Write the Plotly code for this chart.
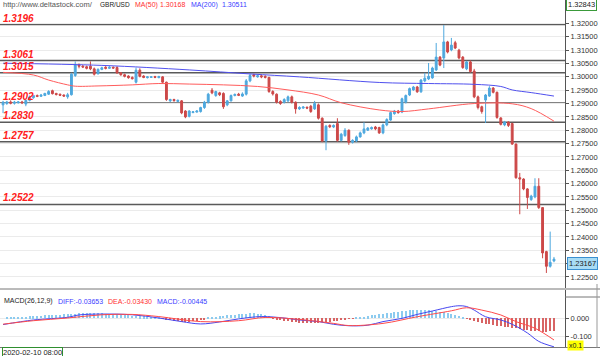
import plotly.graph_objects as go

W, H = 600, 356

# ---------------- data ----------------
idx = list(range(146))

opens = [
    1.2895, 1.2900, 1.2906, 1.2901, 1.2903, 1.2906, 1.2898, 1.2912, 1.2922, 1.2930,
    1.2927, 1.2930, 1.2935, 1.2948, 1.2938, 1.2935, 1.2932, 1.2925, 1.2933, 1.3005,
    1.3045, 1.3040, 1.3038, 1.3040, 1.3030, 1.3012, 1.3028, 1.3036, 1.3032, 1.3036,
    1.3035, 1.3015, 1.3008, 1.3003, 1.2998, 1.2980, 1.3025, 1.3003, 1.2997, 1.2998,
    1.3001, 1.2997, 1.3000, 1.2980, 1.2910, 1.2915, 1.2908, 1.2910, 1.2872, 1.2852,
    1.2866, 1.2868, 1.2870, 1.2885, 1.2905, 1.2950, 1.2930, 1.2940, 1.2938, 1.2895,
    1.2910, 1.2930, 1.2935, 1.2928, 1.2935, 1.2985, 1.3008, 1.3000, 1.3004, 1.3002,
    1.2998, 1.2945, 1.2935, 1.2908, 1.2905, 1.2910, 1.2925, 1.2905, 1.2880, 1.2883,
    1.2886, 1.2890, 1.2880, 1.2895, 1.2845, 1.2760, 1.2818, 1.2812, 1.2825, 1.2762,
    1.2780, 1.2800, 1.2755, 1.2760, 1.2775, 1.2790, 1.2800, 1.2805, 1.2812, 1.2810,
    1.2790, 1.2820, 1.2838, 1.2862, 1.2872, 1.2868, 1.2905, 1.2932, 1.2951, 1.2962,
    1.2944, 1.2985, 1.2992, 1.2996, 1.3026, 1.3074, 1.3071, 1.3131, 1.3101, 1.3128,
    1.3100, 1.3074, 1.3030, 1.3056, 1.3022, 1.2925, 1.2888, 1.2913, 1.2928, 1.2958,
    1.2942, 1.2846, 1.2820, 1.2830, 1.2825, 1.2748, 1.2622, 1.2617, 1.2580, 1.2540,
    1.2550, 1.2590, 1.2510, 1.2345, 1.2290, 1.2310]

highs = [
    1.2910, 1.2910, 1.2912, 1.2910, 1.2909, 1.2910, 1.2915, 1.2930, 1.2933, 1.2934,
    1.2936, 1.2940, 1.2950, 1.2952, 1.2940, 1.2937, 1.2934, 1.2940, 1.3015, 1.3058,
    1.3050, 1.3045, 1.3042, 1.3058, 1.3035, 1.3032, 1.3038, 1.3040, 1.3040, 1.3039,
    1.3040, 1.3018, 1.3012, 1.3006, 1.3002, 1.3035, 1.3032, 1.3006, 1.3003, 1.3003,
    1.3004, 1.3004, 1.3003, 1.2982, 1.2918, 1.2918, 1.2915, 1.2913, 1.2875, 1.2875,
    1.2872, 1.2875, 1.2888, 1.2910, 1.2940, 1.2958, 1.2948, 1.2944, 1.2942, 1.2913,
    1.2934, 1.2938, 1.2940, 1.2942, 1.2992, 1.3012, 1.3012, 1.3008, 1.3008, 1.3006,
    1.3000, 1.2950, 1.2938, 1.2912, 1.2920, 1.2930, 1.2930, 1.2908, 1.2890, 1.2890,
    1.2889, 1.2895, 1.2910, 1.2900, 1.2848, 1.2820, 1.2822, 1.2822, 1.2845, 1.2790,
    1.2808, 1.2803, 1.2766, 1.2780, 1.2795, 1.2830, 1.2812, 1.2814, 1.2816, 1.2813,
    1.2825, 1.2845, 1.2870, 1.2876, 1.2876, 1.2922, 1.2934, 1.2960, 1.2966, 1.2966,
    1.2992, 1.3015, 1.3052, 1.3038, 1.3127, 1.3078, 1.3194, 1.3135, 1.3146, 1.3135,
    1.3105, 1.3078, 1.3060, 1.3062, 1.3030, 1.2930, 1.2892, 1.2936, 1.2965, 1.2962,
    1.2945, 1.2849, 1.2835, 1.2834, 1.2828, 1.2750, 1.2640, 1.2620, 1.2583, 1.2558,
    1.2620, 1.2620, 1.2512, 1.2348, 1.2420, 1.2325]

lows = [
    1.2864, 1.2895, 1.2897, 1.2896, 1.2900, 1.2898, 1.2890, 1.2908, 1.2918, 1.2924,
    1.2925, 1.2928, 1.2932, 1.2934, 1.2930, 1.2928, 1.2925, 1.2918, 1.2930, 1.3000,
    1.3032, 1.3033, 1.3028, 1.3025, 1.3005, 1.3008, 1.3025, 1.3028, 1.3030, 1.3030,
    1.3012, 1.3004, 1.2998, 1.2993, 1.2990, 1.2975, 1.2998, 1.2995, 1.2994, 1.2996,
    1.2995, 1.2995, 1.2975, 1.2910, 1.2906, 1.2907, 1.2905, 1.2860, 1.2845, 1.2848,
    1.2864, 1.2866, 1.2866, 1.2880, 1.2900, 1.2935, 1.2925, 1.2928, 1.2880, 1.2890,
    1.2908, 1.2927, 1.2928, 1.2925, 1.2930, 1.2980, 1.2998, 1.2997, 1.2995, 1.2994,
    1.2940, 1.2930, 1.2900, 1.2895, 1.2900, 1.2905, 1.2900, 1.2862, 1.2876, 1.2880,
    1.2879, 1.2865, 1.2876, 1.2840, 1.2755, 1.2725, 1.2808, 1.2808, 1.2757, 1.2758,
    1.2775, 1.2745, 1.2750, 1.2755, 1.2772, 1.2785, 1.2797, 1.2802, 1.2800, 1.2786,
    1.2785, 1.2815, 1.2835, 1.2858, 1.2862, 1.2864, 1.2900, 1.2928, 1.2948, 1.2940,
    1.2940, 1.2980, 1.2988, 1.2993, 1.3022, 1.3040, 1.3033, 1.3088, 1.3096, 1.3104,
    1.3066, 1.3030, 1.3025, 1.3015, 1.2920, 1.2878, 1.2862, 1.2827, 1.2925, 1.2938,
    1.2843, 1.2818, 1.2815, 1.2812, 1.2745, 1.2618, 1.2485, 1.2575, 1.2505, 1.2535,
    1.2545, 1.2505, 1.2320, 1.2265, 1.2285, 1.2305]

closes = [
    1.2905, 1.2906, 1.2901, 1.2905, 1.2906, 1.2903, 1.2912, 1.2925, 1.2930, 1.2927,
    1.2932, 1.2938, 1.2945, 1.2937, 1.2934, 1.2931, 1.2928, 1.2933, 1.3010, 1.3045,
    1.3040, 1.3037, 1.3032, 1.3030, 1.3010, 1.3028, 1.3034, 1.3032, 1.3036, 1.3033,
    1.3015, 1.3008, 1.3002, 1.2997, 1.2993, 1.3025, 1.3002, 1.2998, 1.3000, 1.3000,
    1.2998, 1.3001, 1.2980, 1.2915, 1.2915, 1.2911, 1.2912, 1.2865, 1.2850, 1.2872,
    1.2869, 1.2872, 1.2885, 1.2905, 1.2935, 1.2940, 1.2945, 1.2933, 1.2888, 1.2910,
    1.2930, 1.2934, 1.2931, 1.2936, 1.2985, 1.3005, 1.3003, 1.3004, 1.3000, 1.2998,
    1.2945, 1.2936, 1.2905, 1.2900, 1.2915, 1.2925, 1.2905, 1.2880, 1.2885, 1.2887,
    1.2883, 1.2870, 1.2900, 1.2845, 1.2760, 1.2815, 1.2813, 1.2818, 1.2762, 1.2785,
    1.2800, 1.2755, 1.2762, 1.2775, 1.2790, 1.2805, 1.2808, 1.2810, 1.2805, 1.2790,
    1.2820, 1.2840, 1.2866, 1.2872, 1.2866, 1.2918, 1.2930, 1.2956, 1.2962, 1.2944,
    1.2988, 1.2995, 1.3002, 1.3033, 1.3074, 1.3044, 1.3131, 1.3093, 1.3119, 1.3108,
    1.3071, 1.3035, 1.3056, 1.3020, 1.2925, 1.2885, 1.2870, 1.2932, 1.2958, 1.2942,
    1.2848, 1.2822, 1.2830, 1.2818, 1.2748, 1.2622, 1.2617, 1.2580, 1.2548, 1.2553,
    1.2590, 1.2510, 1.2340, 1.2290, 1.2305, 1.2317]

# moving averages (candle index, value)
ma50_idx = [0, 8, 12, 17, 19, 25, 34, 41, 49, 58, 67, 75, 83, 89, 99, 105, 112, 124, 134, 139, 145]
ma50_val = [1.30168, 1.3007, 1.2988, 1.2970, 1.2965, 1.2966, 1.2970, 1.2975, 1.2973, 1.2970,
            1.2964, 1.2951, 1.2932, 1.2903, 1.2876, 1.2870, 1.2880, 1.2900, 1.2899, 1.2881, 1.2834]
ma200_idx = [0, 26, 49, 65, 78, 99, 112, 124, 131, 134, 139, 145]
ma200_val = [1.30511, 1.3043, 1.3026, 1.3011, 1.3000, 1.2979, 1.2975, 1.2972, 1.2964, 1.2951, 1.2941, 1.2928]

# support / resistance levels
levels = [1.3196, 1.3061, 1.3015, 1.2902, 1.2830, 1.2757, 1.2522]
level_labels = ["1.3196", "1.3061", "1.3015", "1.2902", "1.2830", "1.2757", "1.2522"]

price_ticks = [1.225, 1.230, 1.235, 1.240, 1.245, 1.250, 1.255, 1.260, 1.265, 1.270,
               1.275, 1.280, 1.285, 1.290, 1.295, 1.300, 1.305, 1.310, 1.315, 1.320]
price_tick_labels = ["1.22500", "1.23000", "1.23500", "1.24000", "1.24500", "1.25000",
                     "1.25500", "1.26000", "1.26500", "1.27000", "1.27500", "1.28000",
                     "1.28500", "1.29000", "1.29500", "1.30000", "1.30500", "1.31000",
                     "1.31500", "1.32000"]

# MACD
macd_hist = [
    0.000, 0.001, 0.002, 0.004, 0.005, 0.006, 0.008, 0.009, 0.010, 0.011,
    0.012, 0.014, 0.016, 0.017, 0.018, 0.019, 0.020, 0.021, 0.022, 0.024,
    0.026, 0.027, 0.028, 0.028, 0.027, 0.027, 0.026, 0.025, 0.024, 0.023,
    0.021, 0.019, 0.017, 0.015, 0.013, 0.013, 0.011, 0.009, 0.007, 0.005,
    0.003, 0.001, -0.004, -0.008, -0.011, -0.014, -0.017, -0.020, -0.022, -0.021,
    -0.019, -0.016, -0.012, -0.007, 0.002, 0.005, 0.007, 0.010, 0.012, 0.014,
    0.016, 0.018, 0.020, 0.022, 0.024, 0.026, 0.026, 0.025, 0.022, 0.018,
    0.012, -0.004, -0.008, -0.012, -0.015, -0.018, -0.021, -0.024, -0.026, -0.027,
    -0.028, -0.028, -0.027, -0.026, -0.024, -0.022, -0.020, -0.017, -0.014, -0.010,
    -0.007, -0.004, -0.002, 0.002, 0.005, 0.008, 0.011, 0.014, 0.017, 0.020,
    0.023, 0.026, 0.029, 0.032, 0.035, 0.038, 0.040, 0.042, 0.043, 0.044,
    0.044, 0.043, 0.042, 0.040, 0.038, 0.035, 0.032, 0.028, 0.024, 0.019,
    0.013, 0.006, -0.005, -0.010, -0.015, -0.020, -0.026, -0.032, -0.036, -0.040,
    -0.043, -0.046, -0.048, -0.050, -0.053, -0.056, -0.060, -0.064, -0.068, -0.070,
    -0.072, -0.074, -0.075, -0.075, -0.073, -0.070]

diff_idx = [0, 8, 17, 20, 26, 34, 41, 47, 52, 57, 62, 68, 74, 78, 83, 87, 91, 96, 100,
            105, 109, 113, 118, 120, 122, 124, 127, 131, 134, 138, 141, 145]
diff_val = [-0.0365, -0.011, 0.004, 0.017, 0.022, 0.018, 0.000, -0.020, -0.033, -0.022,
            -0.005, 0.008, 0.000, -0.011, -0.020, -0.035, -0.043, -0.040, -0.020,
            -0.002, 0.020, 0.039, 0.063, 0.068, 0.064, 0.044, 0.007, -0.011, -0.035,
            -0.083, -0.130, -0.160]
dea_idx = [0, 8, 17, 26, 34, 41, 52, 62, 69, 78, 87, 91, 100, 109, 118, 122, 126, 131, 135, 140, 145]
dea_val = [-0.0343, -0.015, 0.000, 0.018, 0.020, 0.008, -0.020, -0.015, 0.003, -0.008,
           -0.030, -0.042, -0.030, 0.007, 0.040, 0.057, 0.044, 0.017, -0.020, -0.057, -0.122]

# ---------------- styling ----------------
UP = "#4ea8de"
DN = "#cc4848"
GRID = "#ebebeb"
AXIS = "#555555"

def py2paper(py):
    return 1 - py / H

X_END = 565 / W

fig = go.Figure()

fig.add_trace(go.Candlestick(
    x=idx, open=opens, high=highs, low=lows, close=closes,
    increasing=dict(line=dict(color=UP, width=1), fillcolor=UP),
    decreasing=dict(line=dict(color=DN, width=1), fillcolor=DN),
    whiskerwidth=0, showlegend=False, hoverinfo="skip",
    xaxis="x", yaxis="y"))

fig.add_trace(go.Scatter(x=ma50_idx, y=ma50_val, mode="lines",
                         line=dict(color="#ff5c5c", width=1, shape="spline"),
                         showlegend=False, hoverinfo="skip", xaxis="x", yaxis="y"))
fig.add_trace(go.Scatter(x=ma200_idx, y=ma200_val, mode="lines",
                         line=dict(color="#5050ee", width=1, shape="spline"),
                         showlegend=False, hoverinfo="skip", xaxis="x", yaxis="y"))

hist_colors = ["#8ccbef" if v >= 0 else "#d86464" for v in macd_hist]
fig.add_trace(go.Bar(x=idx, y=macd_hist, marker=dict(color=hist_colors, line=dict(width=0)),
                     width=0.28, showlegend=False, hoverinfo="skip", xaxis="x2", yaxis="y2"))
fig.add_trace(go.Scatter(x=diff_idx, y=diff_val, mode="lines",
                         line=dict(color="#4646f0", width=1, shape="spline"),
                         showlegend=False, hoverinfo="skip", xaxis="x2", yaxis="y2"))
fig.add_trace(go.Scatter(x=dea_idx, y=dea_val, mode="lines",
                         line=dict(color="#ff4a4a", width=1, shape="spline"),
                         showlegend=False, hoverinfo="skip", xaxis="x2", yaxis="y2"))

y_top = 1.32 + 23.5 / 2668
y_bot = 1.32 - (288 - 23.5) / 2668

shapes = []
for lv in levels:
    shapes.append(dict(type="line", xref="paper", yref="y", x0=0, x1=X_END, y0=lv, y1=lv,
                       line=dict(color="#5a5a5a", width=1.5), layer="below"))
# panel separators
for yy, x0, x1, col in [(289, 0, 1, "#777777"), (347.5, 0, 1, "#777777"),
                         (297, X_END, 1, "#777777")]:
    shapes.append(dict(type="line", xref="paper", yref="paper", x0=x0, x1=x1,
                       y0=py2paper(yy), y1=py2paper(yy), line=dict(color=col, width=1)))
shapes.append(dict(type="line", xref="paper", yref="paper", x0=597 / W, x1=597 / W,
                   y0=py2paper(347.5), y1=py2paper(284), line=dict(color="#999999", width=1)))

FONT = "Liberation Sans, Arial, sans-serif"
ann = []
for lv, lab in zip(levels, level_labels):
    ann.append(dict(x=2 / W, y=lv, xref="paper", yref="y", text=lab, showarrow=False,
                    xanchor="left", yanchor="bottom", yshift=0, borderpad=0,
                    font=dict(family=FONT, size=10, color="#ff2020", weight="bold", style="italic")))

def txt(s, px, py, color="#333333", size=7, **kw):
    d = dict(x=px / W, y=py2paper(py), xref="paper", yref="paper", text=s, showarrow=False,
             xanchor="left", yanchor="middle", borderpad=0,
             font=dict(family=FONT, size=size, color=color))
    d.update(kw)
    return d

ann += [
    txt("http://www.deltastock.com/", 2, 5, "#555555", 7.5),
    txt("GBR/USD", 99, 5, "#222222", 6.5),
    txt("MA(50)", 134, 5, "#ff3030", 7),
    txt("1.30168", 159, 5, "#ff3030", 7),
    txt("MA(200)", 190, 5, "#3c3cff", 7),
    txt("1.30511", 221, 5, "#3c3cff", 7),
    txt("MACD(26,12,9)", 3, 301, "#222222", 7),
    txt("DIFF:-0.03653", 57, 301, "#3c3cff", 7),
    txt("DEA:-0.03430", 107, 301, "#ff3030", 7),
    txt("MACD:-0.00445", 156, 301, "#3c3cff", 7),
    txt("1.32843", 566, 5, "#222222", 7.5, bgcolor="#ffffff", bordercolor="#3a9a3a",
        borderwidth=1, borderpad=1),
    txt("1.23167", 567, 263, "#222222", 7.5, bgcolor="#a8dcf5", bordercolor="#3a8fd0",
        borderwidth=1, borderpad=1),
    txt("x0.1", 567, 345, "#222222", 7, bgcolor="#ffff00", borderpad=1),
    txt("2020-02-10 08:00", 2, 352, "#222222", 7.5, bgcolor="#ffffff", bordercolor="#2f8f2f",
        borderwidth=1, borderpad=0),
]

fig.update_layout(
    width=W, height=H, margin=dict(l=0, r=0, t=0, b=0),
    paper_bgcolor="#ffffff", plot_bgcolor="#ffffff",
    showlegend=False, bargap=0,
    xaxis=dict(domain=[0, X_END], range=[-0.8, 147.9], showticklabels=False, showgrid=False,
               zeroline=False, showline=False, ticks="", rangeslider=dict(visible=False),
               anchor="y", fixedrange=True),
    xaxis2=dict(domain=[0, X_END], range=[-0.8, 147.9], showticklabels=False, showgrid=False,
                zeroline=False, showline=False, ticks="", anchor="y2", matches="x"),
    yaxis=dict(domain=[py2paper(288), 1], range=[y_bot, y_top], side="right",
               tickvals=price_ticks, ticktext=price_tick_labels,
               tickfont=dict(family=FONT, size=7.5, color="#333333"),
               showgrid=True, gridcolor=GRID, gridwidth=1, zeroline=False,
               showline=True, linecolor=AXIS, linewidth=1, ticks="outside", ticklen=3,
               tickcolor=AXIS, anchor="x", automargin=False),
    yaxis2=dict(domain=[py2paper(347), py2paper(290)], range=[-0.1611, 0.1556], side="right",
                tickvals=[0.0, -0.1], ticktext=["0.000", "-0.100"],
                tickfont=dict(family=FONT, size=7.5, color="#333333"),
                showgrid=True, gridcolor=GRID, zeroline=False,
                showline=True, linecolor=AXIS, linewidth=1, ticks="outside", ticklen=3,
                tickcolor=AXIS, anchor="x2", automargin=False),
    shapes=shapes, annotations=ann,
)

fig.write_html("out.html", config={"displayModeBar": False},
               post_script="document.body.style.margin='0';document.body.style.overflow='hidden';")
